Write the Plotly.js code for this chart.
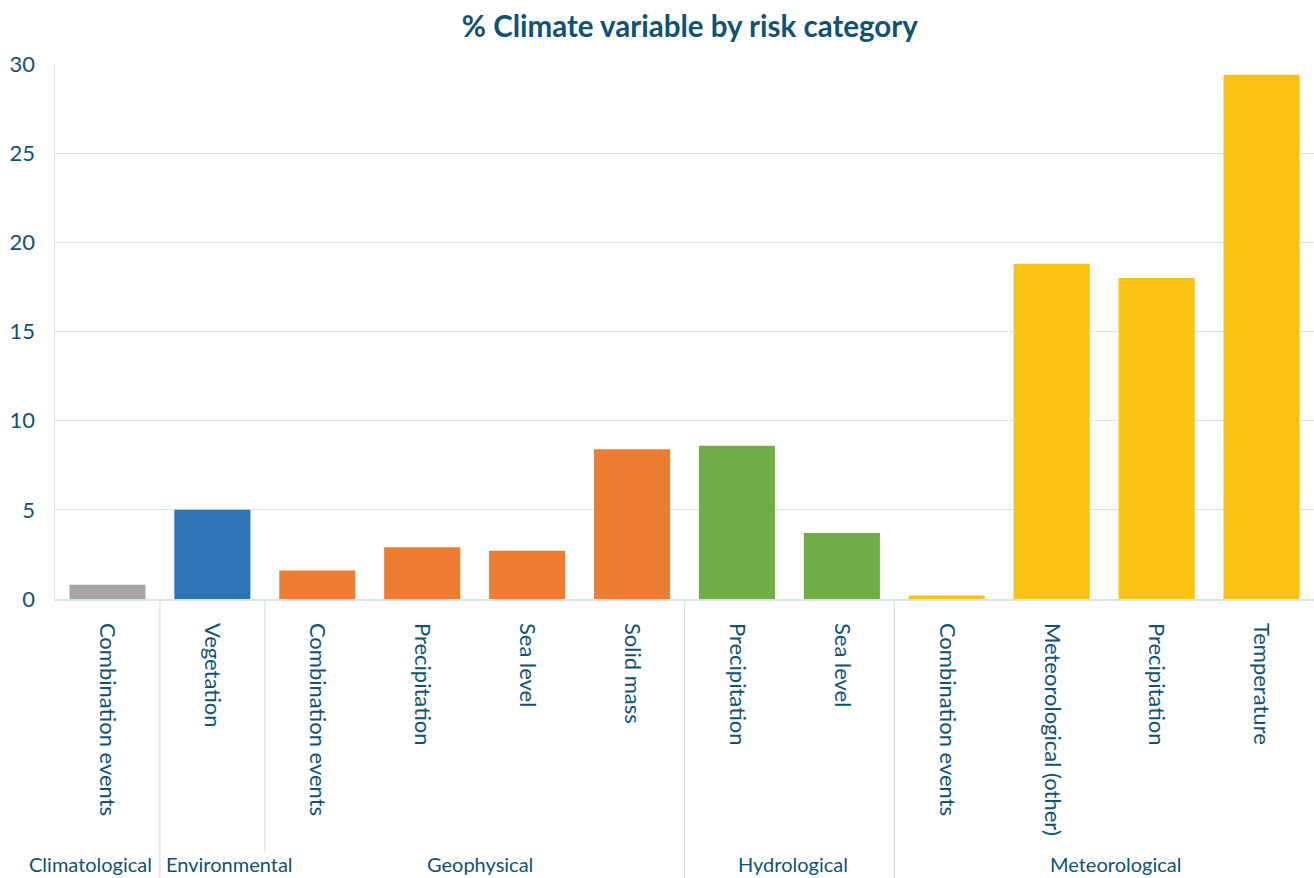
<!DOCTYPE html>
<html>
<head>
<meta charset="utf-8">
<script src="https://cdn.plot.ly/plotly-3.0.1.min.js"></script>
<style>
  html, body { margin: 0; padding: 0; background: #ffffff; }
  #chart { width: 1314px; height: 878px; }
</style>
</head>
<body>
<div id="chart"></div>
<script>
// Risk category for each bar
const riskCategories = [
  "Climatological", "Environmental",
  "Geophysical", "Geophysical", "Geophysical", "Geophysical",
  "Hydrological", "Hydrological",
  "Meteorological", "Meteorological", "Meteorological", "Meteorological"
];
// Climate variable for each bar (tick labels)
const climateVariables = [
  "Combination events", "Vegetation",
  "Combination events", "Precipitation", "Sea level", "Solid mass",
  "Precipitation", "Sea level",
  "Combination events", "Meteorological (other)", "Precipitation", "Temperature"
];
// Share of climate variables (%)
const shares = [0.8, 5.0, 1.6, 2.9, 2.7, 8.4, 8.6, 3.7, 0.2, 18.8, 18.0, 29.4];

const categoryColours = {
  "Climatological": "#A5A5A5",
  "Environmental": "#2E75B6",
  "Geophysical": "#ED7D31",
  "Hydrological": "#70AD47",
  "Meteorological": "#FBC113"
};

const textColour = "#0F5272";
const gridColour = "#D6E3EA";
const fontFamily = "Lato, 'Open Sans', sans-serif";

// Bar slots along the category axis
const positions = climateVariables.map((_, i) => i);

// Group spans: first/last slot of each risk category
const groups = [];
riskCategories.forEach((c, i) => {
  const last = groups[groups.length - 1];
  if (last && last.name === c) last.end = i;
  else groups.push({ name: c, start: i, end: i });
});

// Small horizontal nudges so neighbouring group labels keep apart
const groupLabelShift = {
  "Climatological": -17, "Environmental": 17,
  "Geophysical": 5, "Hydrological": 4, "Meteorological": 11
};

// Plot area height in pixels, used to extend dividers below the axis
const marginTop = 64, marginBottom = 279, figHeight = 878;
const plotHeight = figHeight - marginTop - marginBottom;

const dividerShapes = groups.slice(0, -1).map((g, k) => ({
  type: "line",
  xref: "x", yref: "paper",
  x0: g.end + 0.5, x1: g.end + 0.5,
  y0: 0,
  y1: -(k === 1 ? marginBottom - 26 : marginBottom) / plotHeight,
  line: { color: gridColour, width: 1.3 }
}));

const groupAnnotations = groups.map(g => ({
  xref: "x", yref: "paper",
  x: (g.start + g.end) / 2,
  y: -(marginBottom - 14) / plotHeight,
  xshift: groupLabelShift[g.name] || 0,
  text: g.name,
  showarrow: false,
  xanchor: "center", yanchor: "middle",
  font: { family: fontFamily, size: 20, color: textColour }
}));

const trace = {
  type: "bar",
  x: positions,
  y: shares,
  width: 0.725,
  marker: { color: riskCategories.map(c => categoryColours[c]) },
  hovertext: climateVariables,
  hoverinfo: "text+y"
};

const layout = {
  width: 1314,
  height: figHeight,
  margin: { l: 55, r: 0, t: marginTop, b: marginBottom },
  paper_bgcolor: "#ffffff",
  plot_bgcolor: "#ffffff",
  showlegend: false,
  font: { family: fontFamily, color: textColour, size: 20 },
  title: {
    text: "<b>% Climate variable by risk category</b>",
    font: { family: fontFamily, size: 29.5, color: textColour },
    x: 0.525,
    xanchor: "center",
    y: 0.97,
    yanchor: "middle"
  },
  xaxis: {
    range: [-0.5, positions.length - 0.5],
    tickmode: "array",
    tickvals: positions,
    ticktext: climateVariables,
    tickangle: 90,
    tickfont: { family: fontFamily, size: 22, color: textColour },
    ticks: "outside",
    ticklen: 18,
    tickcolor: "rgba(0,0,0,0)",
    showline: true,
    linecolor: gridColour,
    linewidth: 1.5,
    showgrid: false,
    zeroline: false,
    automargin: false
  },
  yaxis: {
    range: [0, 30],
    dtick: 5,
    tick0: 0,
    showgrid: true,
    gridcolor: gridColour,
    gridwidth: 1.2,
    zeroline: false,
    showline: true,
    linecolor: gridColour,
    linewidth: 1.5,
    ticks: "outside",
    ticklen: 14,
    tickcolor: "rgba(0,0,0,0)",
    tickfont: { family: fontFamily, size: 22, color: textColour },
    automargin: false
  },
  shapes: dividerShapes,
  annotations: groupAnnotations
};

Plotly.newPlot("chart", [trace], layout, { displayModeBar: false, staticPlot: true });
</script>
</body>
</html>
